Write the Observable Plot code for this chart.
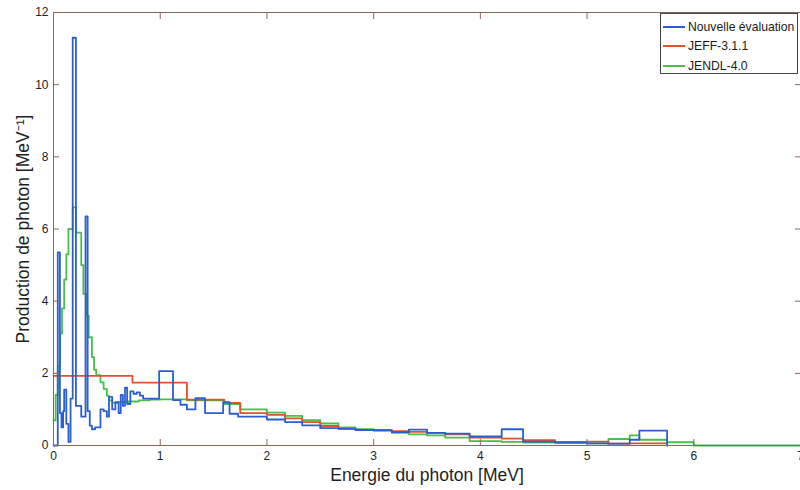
<!DOCTYPE html>
<html>
<head>
<meta charset="utf-8">
<script src="https://cdn.jsdelivr.net/npm/d3@7"></script>
<script src="https://cdn.jsdelivr.net/npm/@observablehq/plot@0.6"></script>
<style>
  html, body { margin: 0; padding: 0; background: #fff; }
  #wrap { position: relative; width: 800px; height: 490px; overflow: hidden; font-family: "Liberation Sans", Arial, Helvetica, sans-serif; }
  #legend { position: absolute; left: 660px; top: 13px; width: 138px; height: 61px; border: 1px solid #444; background: #fff; box-sizing: border-box; padding-top: 3px; }
  .row { display: flex; align-items: center; height: 19.5px; font-size: 12.2px; color: #1a1a1a; white-space: nowrap; }
  .sw { flex: none; width: 22px; height: 0; border-top: 2px solid; margin: 0 3px 0 2px; }
</style>
</head>
<body>
<div id="wrap"></div>
<script>
// ---- data ----
const xTicks = [0, 1, 2, 3, 4, 5, 6, 7];
const yTicks = [0, 2, 4, 6, 8, 10, 12];
const seriesNames = ["Nouvelle évaluation", "JEFF-3.1.1", "JENDL-4.0"];
const xLabel = "Energie du photon [MeV]";
const yLabel = "Production de photon [MeV⁻¹]";

// Nouvelle évaluation: bin lower edges (MeV) and values (MeV^-1)
const nouvelleEdges = [0, 0.04, 0.06, 0.075, 0.09, 0.10, 0.12, 0.14, 0.16, 0.18,
  0.21, 0.26, 0.30, 0.32, 0.34, 0.36, 0.39, 0.44, 0.47, 0.50,
  0.52, 0.55, 0.58, 0.61, 0.63, 0.65, 0.67, 0.69, 0.72, 0.75,
  0.78, 0.81, 0.84, 0.99, 1.12, 1.19, 1.25, 1.33, 1.42, 1.59,
  1.65, 1.73, 2.0, 2.17, 2.33, 2.5, 2.67, 2.83, 3.0, 3.17,
  3.33, 3.5, 3.67, 3.9, 4.2, 4.4, 4.7, 5.0, 5.2, 5.4,
  5.49, 5.75];
const nouvelleValues = [0, 5.35, 0.9, 0.5, 0.95, 1.55, 0.6, 0.1, 1.3, 11.3,
  1.1, 0.8, 6.35, 0.95, 0.55, 0.45, 0.5, 1.0, 0.95, 0.8,
  1.35, 1.0, 1.2, 0.9, 1.4, 1.1, 1.6, 1.15, 1.5, 1.43,
  1.47, 1.38, 1.3, 2.06, 1.26, 1.13, 1.0, 1.31, 0.9, 1.2,
  0.88, 0.8, 0.72, 0.65, 0.56, 0.48, 0.46, 0.43, 0.42, 0.37,
  0.44, 0.35, 0.33, 0.25, 0.45, 0.11, 0.08, 0.06, 0.05, 0.16,
  0.41, 0];

// JEFF-3.1.1
const jeffEdges = [0, 0.74, 1.25, 1.6, 1.75, 2.0, 2.17, 2.33, 2.5, 2.67,
  2.83, 3.0, 3.17, 3.33, 3.5, 3.67, 3.9, 4.2, 4.4, 4.7,
  5.0, 5.2, 5.4, 5.75];
const jeffValues = [1.93, 1.74, 1.27, 1.18, 0.9, 0.85, 0.75, 0.65, 0.54, 0.47,
  0.43, 0.43, 0.4, 0.38, 0.35, 0.31, 0.22, 0.19, 0.15, 0.1,
  0.11, 0.05, 0.06, 0];

// JENDL-4.0
const jendlEdges = [0, 0.02, 0.04, 0.06, 0.08, 0.10, 0.12, 0.14, 0.18, 0.21,
  0.26, 0.28, 0.31, 0.33, 0.36, 0.38, 0.40, 0.44, 0.47, 0.50,
  0.52, 0.55, 0.6, 0.7, 0.8, 0.9, 1.0, 1.25, 1.6, 1.75,
  2.0, 2.17, 2.33, 2.5, 2.67, 2.83, 3.0, 3.17, 3.33, 3.5,
  3.67, 3.9, 4.2, 4.4, 4.7, 5.0, 5.2, 5.4, 5.49, 5.75,
  6.0, 7.0];
const jendlValues = [0.7, 1.4, 2.2, 3.1, 3.8, 4.6, 5.3, 6.0, 6.6, 5.9,
  5.0, 4.2, 3.6, 3.0, 2.45, 2.1, 1.95, 1.75, 1.57, 1.38,
  1.25, 1.18, 1.2, 1.22, 1.25, 1.27, 1.28, 1.25, 1.15, 1.0,
  0.91, 0.82, 0.7, 0.61, 0.5, 0.45, 0.41, 0.35, 0.31, 0.28,
  0.22, 0.12, 0.1, 0.08, 0.07, 0.06, 0.18, 0.28, 0.16, 0.09,
  0, 0];

// ---- styles ----
const colors = ["#2a5fd2", "#e4502c", "#46c046"];
const axisColor = "#8c6656";
const font = '"Liberation Sans", Arial, Helvetica, sans-serif';

const toRows = (edges, values) => edges.map((x, i) => ({x, y: values[i]}));
const nouvelle = toRows(nouvelleEdges, nouvelleValues);
const jeff = toRows(jeffEdges, jeffValues);
const jendl = toRows(jendlEdges, jendlValues);

const chart = Plot.plot({
  width: 800,
  height: 490,
  marginLeft: 53,
  marginRight: 0,
  marginTop: 12,
  marginBottom: 45,
  x: {domain: [0, 7]},
  y: {domain: [0, 12]},
  style: {fontFamily: font, fontSize: "12px", color: "#1e1e1e", background: "#fff"},
  marks: [
    Plot.line(jendl, {x: "x", y: "y", curve: "step-after", stroke: colors[2], strokeWidth: 1.8}),
    Plot.line(jeff, {x: "x", y: "y", curve: "step-after", stroke: colors[1], strokeWidth: 1.8}),
    Plot.line(nouvelle, {x: "x", y: "y", curve: "step-after", stroke: colors[0], strokeWidth: 1.8}),
    Plot.ruleX([xTicks[0]], {stroke: axisColor}),
    Plot.ruleY([yTicks[0], yTicks[yTicks.length - 1]], {stroke: axisColor}),
    Plot.axisX(xTicks, {anchor: "bottom", tickSize: 0, tickPadding: 6, label: null, fill: "#1e1e1e"}),
    Plot.axisY(yTicks, {anchor: "left", tickSize: 0, tickPadding: 5, label: null, fill: "#1e1e1e"}),
    Plot.axisX(xTicks, {anchor: "bottom", tickSize: -6, fill: "none", stroke: axisColor, label: null}),
    Plot.axisX(xTicks, {anchor: "top", tickSize: -6, fill: "none", stroke: axisColor, label: null}),
    Plot.axisY(yTicks, {anchor: "left", tickSize: -6, fill: "none", stroke: axisColor, label: null}),
    Plot.axisY(yTicks, {anchor: "right", tickSize: -6, fill: "none", stroke: axisColor, label: null}),
    Plot.text([xLabel], {frameAnchor: "bottom", lineAnchor: "middle", textAnchor: "middle", dy: 30, fontSize: 17.5, fill: "#1e1e1e"}),
    Plot.text([yLabel], {frameAnchor: "left", lineAnchor: "middle", textAnchor: "middle", rotate: -90, dx: -30, fontSize: 17.5, fill: "#1e1e1e"})
  ]
});

const wrap = document.getElementById("wrap");
wrap.appendChild(chart);

const legend = document.createElement("div");
legend.id = "legend";
seriesNames.forEach((name, i) => {
  const row = document.createElement("div");
  row.className = "row";
  const sw = document.createElement("span");
  sw.className = "sw";
  sw.style.borderColor = colors[i];
  const label = document.createElement("span");
  label.textContent = name;
  row.appendChild(sw);
  row.appendChild(label);
  legend.appendChild(row);
});
wrap.appendChild(legend);
</script>
</body>
</html>
